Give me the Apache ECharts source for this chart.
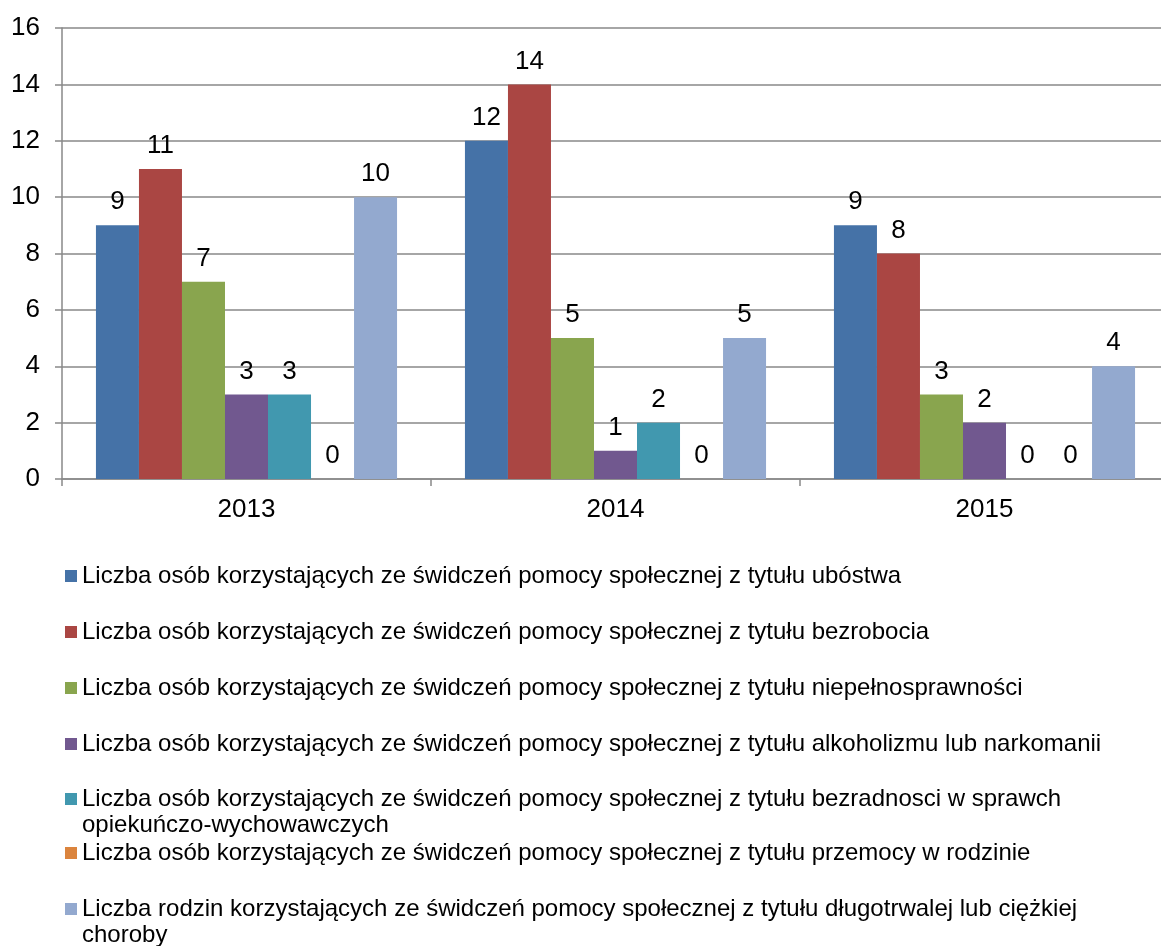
<!DOCTYPE html>
<html>
<head>
<meta charset="utf-8">
<title>Świadczenia pomocy społecznej 2013-2015</title>
<script src="https://cdn.jsdelivr.net/npm/echarts@6/dist/echarts.min.js"></script>
<style>
  html, body { margin: 0; padding: 0; background: #fff; }
  #chart { width: 1161px; height: 946px; }
</style>
</head>
<body>
<div id="chart"></div>
<script>
// lata
const years = ['2013', '2014', '2015']

// nazwy serii (\n = złamanie linii w legendzie)
const seriesNames = [
  'Liczba osób korzystających ze świdczeń pomocy społecznej z tytułu ubóstwa',
  'Liczba osób korzystających ze świdczeń pomocy społecznej z tytułu bezrobocia',
  'Liczba osób korzystających ze świdczeń pomocy społecznej z tytułu niepełnosprawności',
  'Liczba osób korzystających ze świdczeń pomocy społecznej z tytułu alkoholizmu lub narkomanii',
  'Liczba osób korzystających ze świdczeń pomocy społecznej z tytułu bezradnosci w sprawch\nopiekuńczo-wychowawczych',
  'Liczba osób korzystających ze świdczeń pomocy społecznej z tytułu przemocy w rodzinie',
  'Liczba rodzin korzystających ze świdczeń pomocy społecznej z tytułu długotrwalej lub ciężkiej\nchoroby'
]

const ubostwo = [9, 12, 9]
const bezrobocie = [11, 14, 8]
const niepelnosprawnosc = [7, 5, 3]
const alkoholizm = [3, 1, 2]
const bezradnosc = [3, 2, 0]
const przemoc = [0, 0, 0]
const choroba = [10, 5, 4]

const seriesValues = [ubostwo, bezrobocie, niepelnosprawnosc, alkoholizm, bezradnosc, przemoc, choroba]

const colors = ['#4572A7', '#AA4643', '#89A54E', '#71588F', '#4198AF', '#DB843D', '#93A9CF']

const FONT = '"Liberation Sans", Arial, sans-serif'
const gray = '#898989'
const LH = 26

// legenda - osobna dla każdego wpisu, żeby zachować stały odstęp
// przy wpisach dwuwierszowych pusta linia na początku -> ikona na wysokości pierwszego wiersza
const legendCenters = [575, 631, 687, 743, 798, 852, 908]
const legends = seriesNames.map((name, i) => {
  const wrapped = name.indexOf('\n') >= 0
  return {
    data: [name],
    orient: 'vertical',
    left: 65,
    top: legendCenters[i] + 7 - (wrapped ? 6 + LH * 1.5 : 6 + LH / 2),
    padding: 0,
    itemWidth: 12,
    itemHeight: 12,
    icon: 'rect',
    selectedMode: false,
    formatter: n => (wrapped ? '\u00a0\n' + n : n),
    textStyle: {
      fontFamily: FONT,
      fontSize: 24,
      color: '#000',
      lineHeight: LH
    }
  }
})

const chart = echarts.init(document.getElementById('chart'))

const option = {
  animation: false,
  backgroundColor: '#fff',
  color: colors,
  legend: legends,
  grid: {
    left: 62,
    top: 28,
    width: 1107,
    height: 451,
    outerBoundsMode: 'none'
  },
  xAxis: {
    type: 'category',
    data: years,
    axisLine: { lineStyle: { color: gray, width: 1.5 } },
    axisTick: { show: true, length: 7, lineStyle: { color: gray, width: 1.5 } },
    axisLabel: { fontFamily: FONT, fontSize: 26, color: '#000', margin: 18 }
  },
  yAxis: {
    type: 'value',
    min: 0,
    max: 16,
    interval: 2,
    axisLine: { show: true, lineStyle: { color: gray, width: 1.5 } },
    axisTick: { show: true, length: 7, lineStyle: { color: gray, width: 1.5 } },
    axisLabel: { fontFamily: FONT, fontSize: 26, color: '#000', margin: 22 },
    splitLine: { lineStyle: { color: gray, width: 1.5 } }
  },
  series: seriesValues.map((vals, i) => ({
    name: seriesNames[i],
    type: 'bar',
    data: vals,
    barGap: 0,
    barCategoryGap: '18.4%',
    label: {
      show: true,
      position: 'top',
      distance: 10,
      fontFamily: FONT,
      fontSize: 26,
      color: '#000'
    }
  }))
}

chart.setOption(option)
</script>
</body>
</html>
